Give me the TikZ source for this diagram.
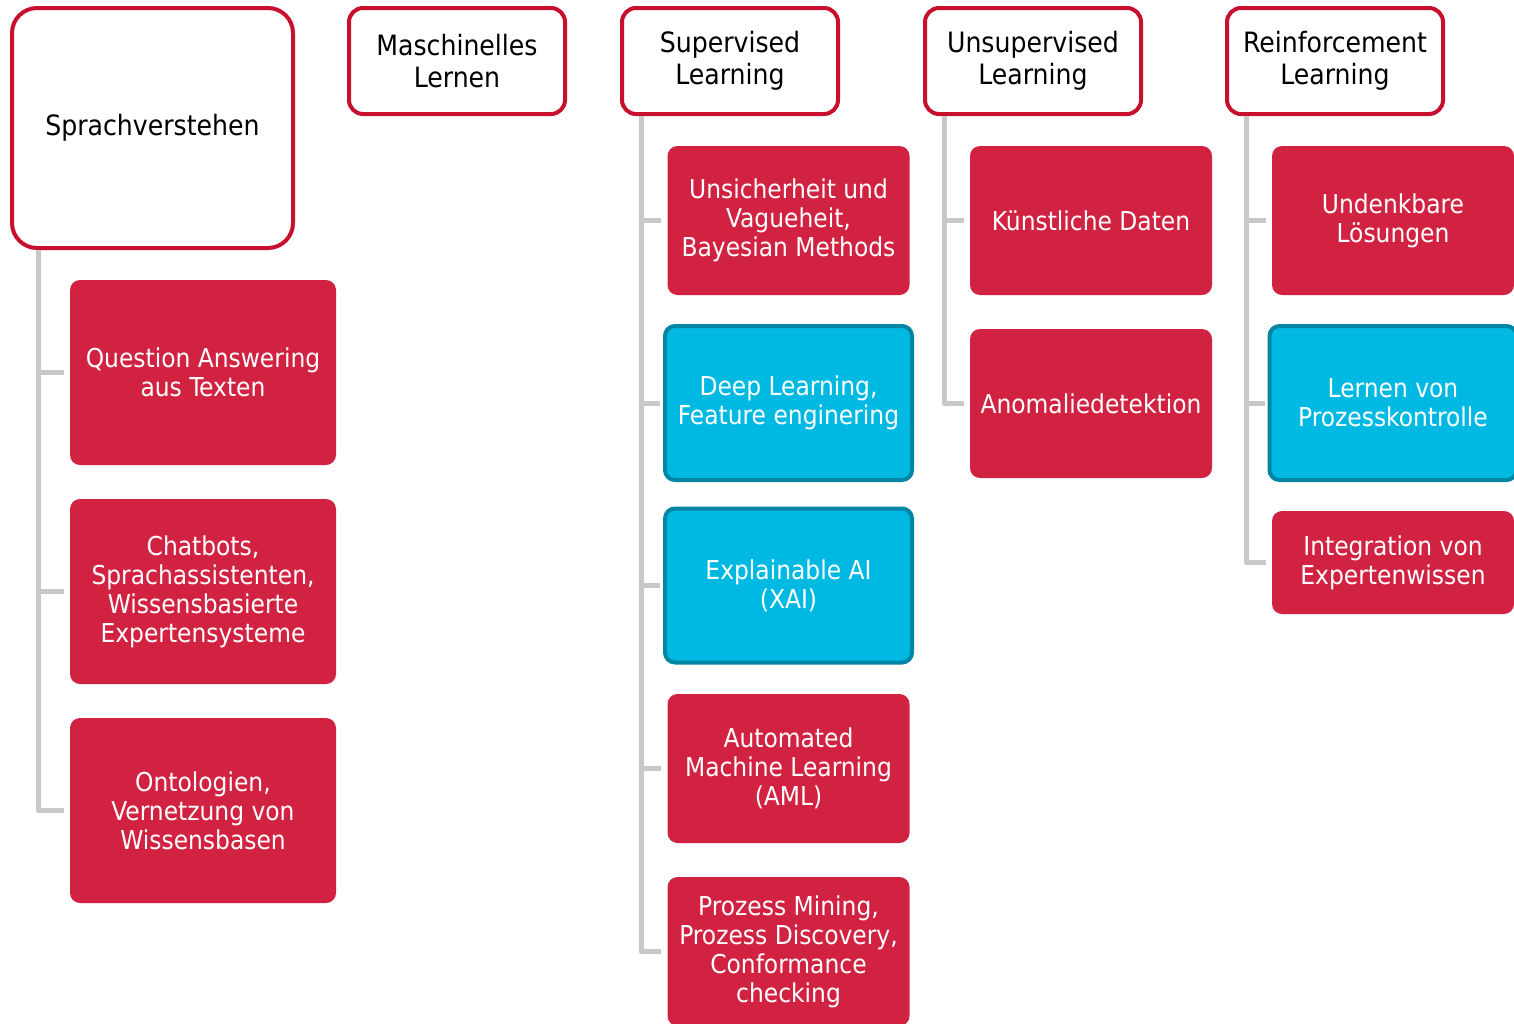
\documentclass[tikz,border=0pt]{standalone}
\usepackage{fontspec}
\setmainfont{DejaVu Sans Condensed}
\definecolor{kired}{RGB}{210,34,66}
\definecolor{kiframe}{RGB}{200,16,46}
\definecolor{kiblue}{RGB}{0,185,227}
\definecolor{kibluedark}{RGB}{0,133,165}
\definecolor{kigrey}{RGB}{200,200,200}

\tikzset{
    head/.style={draw=kiframe, line width=4pt, fill=white, rounded corners=14pt,
        align=center, inner sep=0pt, font=\fontsize{28}{32}\selectfont,
        minimum width=216pt, minimum height=106pt},
    leaf/.style={fill=kired, text=white, rounded corners=10pt, align=center,
        inner sep=0pt, font=\fontsize{26}{29}\selectfont,
        minimum width=242pt, minimum height=149pt},
    hot/.style={leaf, fill=kiblue, draw=kibluedark, line width=4pt,
        minimum width=247pt, minimum height=154pt},
    link/.style={draw=kigrey, line width=5pt, line join=round, shorten >=6pt},
}

\begin{document}
\begin{tikzpicture}[x=1pt, y=-1pt]
\useasboundingbox (0,0) rectangle (1514,1023);
\clip (0,0) rectangle (1514,1023);

% Headers
\node[head, minimum width=281pt, minimum height=240pt, rounded corners=25pt] (sv) at (152.5,128) {Sprachverstehen};
\node[head] (ml) at (457,61) {Maschinelles\\Lernen};
\node[head] (sl) at (730,61) {Supervised\\Learning};
\node[head] (ul) at (1033,61) {Unsupervised\\Learning};
\node[head] (rl) at (1335,61) {Reinforcement\\Learning};

% Sprachverstehen
\node[leaf, minimum width=266pt, minimum height=185pt] (qa) at (203,372.5) {Question Answering\\aus Texten};
\node[leaf, minimum width=266pt, minimum height=185pt] (cb) at (203,591.5) {Chatbots,\\Sprachassistenten,\\Wissensbasierte\\Expertensysteme};
\node[leaf, minimum width=266pt, minimum height=185pt] (on) at (203,810.5) {Ontologien,\\Vernetzung von\\Wissensbasen};

% Supervised Learning
\node[leaf] (un) at (788.5,220.5) {Unsicherheit und\\Vagueheit,\\Bayesian Methods};
\node[hot] (dl) at (788.5,403) {Deep Learning,\\Feature enginering};
\node[hot] (xai) at (788.5,585.5) {Explainable AI\\(XAI)};
\node[leaf] (aml) at (788.5,768.5) {Automated\\Machine Learning\\(AML)};
\node[leaf] (pm) at (788.5,951.5) {Prozess Mining,\\Prozess Discovery,\\Conformance\\checking};

% Unsupervised Learning
\node[leaf] (kd) at (1091,220.5) {Künstliche Daten};
\node[leaf] (ad) at (1091,403.5) {Anomaliedetektion};

% Reinforcement Learning
\node[leaf] (ud) at (1393,220.5) {Undenkbare\\Lösungen};
\node[hot] (lp) at (1393,403) {Lernen von\\Prozesskontrolle};
\node[leaf, minimum height=103pt] (ie) at (1393,562.5) {Integration von\\Expertenwissen};

% Tree lines
\foreach \c in {qa,cb,on}
    \draw[link] ([xshift=28pt]sv.south west) |- (\c.west);
\foreach \c in {un,aml,pm}
    \draw[link] ([xshift=21pt]sl.south west) |- (\c.west);
\foreach \c in {dl,xai}
    \draw[link, shorten >=3pt] ([xshift=21pt]sl.south west) |- (\c.west);
\foreach \c in {kd,ad}
    \draw[link] ([xshift=21pt]ul.south west) |- (\c.west);
\foreach \c in {ud,ie}
    \draw[link] ([xshift=21pt]rl.south west) |- (\c.west);
\draw[link, shorten >=3pt] ([xshift=21pt]rl.south west) |- (lp.west);

\end{tikzpicture}
\end{document}
